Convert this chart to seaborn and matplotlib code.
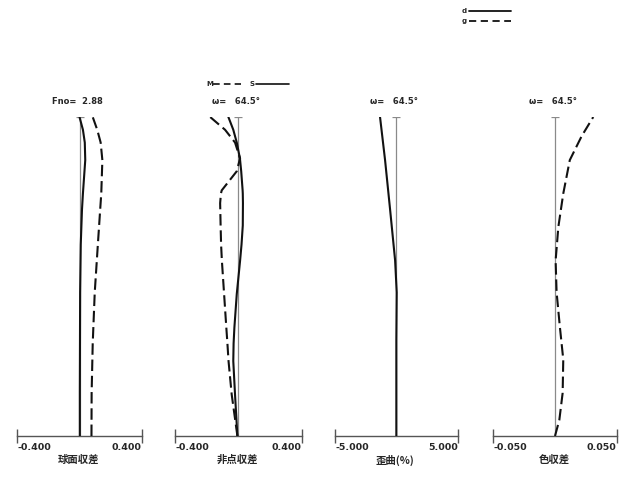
import matplotlib
matplotlib.use("Agg")
import matplotlib.pyplot as plt
import seaborn as sns
import pandas as pd

# ---------------- data ----------------
# Spherical aberration (mm) vs normalized pupil height
sph_h = [0.0, 0.135, 0.29, 0.45, 0.6, 0.71, 0.76, 0.865, 0.92, 0.96, 1.0]
sph_d = [0.002, 0.002, 0.003, 0.004, 0.008, 0.016, 0.022, 0.037, 0.034, 0.022, 0.0]
sph_g = [0.077, 0.078, 0.085, 0.098, 0.118, 0.133, 0.140, 0.147, 0.136, 0.114, 0.085]

# Astigmatism (mm) vs normalized image height
ast_h = [0.0, 0.13, 0.235, 0.29, 0.34, 0.445, 0.55, 0.6, 0.66, 0.73, 0.76, 0.77, 0.83, 0.865, 0.87, 0.92, 0.96, 1.0]
ast_s = [-0.006, -0.021, -0.032, -0.030, -0.025, -0.010, 0.011, 0.020, 0.028, 0.029, 0.028, 0.027, 0.018, 0.011, 0.010, -0.010, -0.032, -0.063]
ast_m = [-0.006, -0.042, -0.062, -0.069, -0.076, -0.090, -0.104, -0.109, -0.112, -0.115, -0.110, -0.105, -0.010, 0.008, 0.011, -0.021, -0.084, -0.178]

# Distortion (%)
dist_h = [0.0, 0.1, 0.2, 0.3, 0.4, 0.45, 0.55, 0.71, 0.865, 1.0]
dist_v = [0.0, 0.0, 0.0, 0.0, 0.02, 0.03, -0.10, -0.51, -0.92, -1.33]

# Lateral colour (mm)
lat_h = [0.0, 0.05, 0.135, 0.24, 0.34, 0.45, 0.55, 0.655, 0.76, 0.865, 0.94, 1.0]
lat_g = [0.0, 0.0035, 0.0062, 0.0067, 0.004, 0.0013, 0.0005, 0.0027, 0.0067, 0.012, 0.0216, 0.031]

titles = ["Fno=  2.88", "\u03c9=   64.5\u00b0", "\u03c9=   64.5\u00b0", "\u03c9=   64.5\u00b0"]
xlabels = ["球面収差", "非点収差", "歪曲(%)", "色収差"]
limits = [(-0.4, 0.4), (-0.4, 0.4), (-5.0, 5.0), (-0.05, 0.05)]
tick_labels = [["-0.400", "0.400"], ["-0.400", "0.400"], ["-5.000", "5.000"], ["-0.050", "0.050"]]

# ---------------- figure ----------------
sns.set_style("white")
plt.rcParams['font.family'] = ['DejaVu Sans', 'Noto Sans CJK JP']

W, H = 640, 480
fig = plt.figure(figsize=(6.4, 4.8), dpi=100)
fig.patch.set_facecolor("white")

px_bounds = [(17.3, 141.7), (175.0, 301.7), (335.0, 457.7), (493.3, 616.7)]
y_bot, y_top = 436, 117

LINE = "#111111"
GREY = "#8a8a8a"
DASH = [5.5, 2.3]

axes = []
for i, (x0, x1) in enumerate(px_bounds):
    ax = fig.add_axes([x0 / W, (H - y_bot) / H, (x1 - x0) / W, (y_bot - y_top) / H])
    ax.set_xlim(*limits[i])
    ax.set_ylim(0, 1)
    ax.patch.set_alpha(0)
    for s in ("left", "top", "right"):
        ax.spines[s].set_visible(False)
    ax.spines["bottom"].set_color("#555555")
    ax.spines["bottom"].set_linewidth(1.0)
    ax.set_yticks([])
    ax.set_xticks(list(limits[i]))
    ax.set_xticklabels(tick_labels[i], fontsize=6.8, fontweight="bold")
    ax.tick_params(axis="x", direction="inout", length=10, width=1.0, color="#555555", pad=0, bottom=True)
    tls = ax.get_xticklabels()
    tls[0].set_ha("left")
    tls[1].set_ha("right")
    # central reference line with small cap
    ax.plot([0, 0], [0, 1], color=GREY, lw=0.9, zorder=1)
    ax.plot([0], [1], marker="_", markersize=6, color=GREY, mew=0.9, zorder=1)
    ax.annotate(titles[i], xy=(0, 1), xycoords=("data", "axes fraction"),
                xytext=(-2, 16), textcoords="offset pixels", ha="center", va="center",
                fontsize=6, fontweight="bold")
    ax.annotate(xlabels[i], xy=(0, 0), xycoords=("data", "axes fraction"),
                xytext=(-1, -24), textcoords="offset pixels", ha="center", va="center",
                fontsize=7.5, fontweight="bold", family=["Noto Sans CJK JP", "DejaVu Sans"])
    axes.append(ax)


def curve(ax, xs, hs, dashed):
    df = pd.DataFrame({"x": xs, "h": hs})
    sns.lineplot(data=df, x="x", y="h", sort=False, estimator=None, ax=ax,
                 color=LINE, lw=1.5, zorder=3)
    if dashed:
        ax.lines[-1].set_dashes(DASH)
    ax.set_xlabel("")
    ax.set_ylabel("")


curve(axes[0], sph_d, sph_h, False)
curve(axes[0], sph_g, sph_h, True)
curve(axes[1], ast_s, ast_h, False)
curve(axes[1], ast_m, ast_h, True)
curve(axes[2], dist_v, dist_h, False)
curve(axes[3], lat_g, lat_h, True)

for i, ax in enumerate(axes):
    ax.set_xlim(*limits[i])
    ax.set_ylim(0, 1)

# ---------------- legend decorations ----------------
ov = fig.add_axes([0, 0, 1, 1])
ov.set_xlim(0, W)
ov.set_ylim(H, 0)
ov.axis("off")
ov.patch.set_alpha(0)

ov.text(464, 11, "d", fontsize=5, fontweight="bold", ha="center", va="center")
ov.plot([469, 511], [11, 11], color=LINE, lw=1.3)
ov.text(464, 21, "g", fontsize=5, fontweight="bold", ha="center", va="center")
lg, = ov.plot([469, 511], [21, 21], color=LINE, lw=1.3)
lg.set_dashes([4, 2.5])

ov.text(209.5, 84, "M", fontsize=5, fontweight="bold", ha="center", va="center")
lm, = ov.plot([213, 241], [84, 84], color=LINE, lw=1.2)
lm.set_dashes([4, 2.5])
ov.text(252, 84, "S", fontsize=5, fontweight="bold", ha="center", va="center")
ov.plot([256, 289], [84, 84], color=LINE, lw=1.2)

fig.savefig("out.png", dpi=100, facecolor="white")
